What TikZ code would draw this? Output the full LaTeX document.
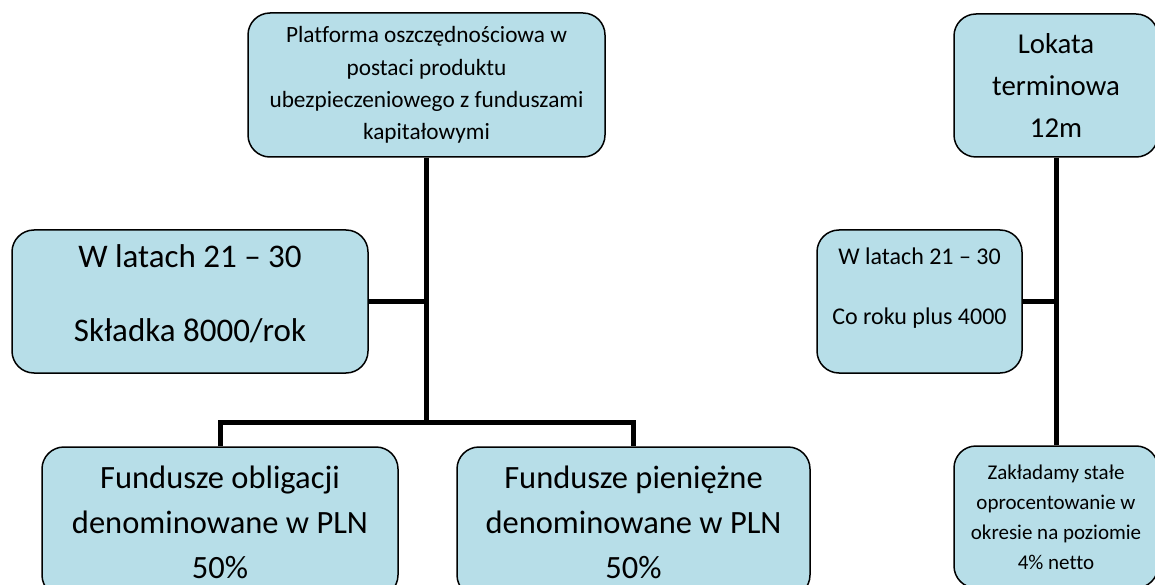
\documentclass[tikz,border=0pt]{standalone}
\usepackage{fontspec}
\setmainfont{Carlito}[Ligatures={NoCommon}]
\usetikzlibrary{positioning}
\definecolor{boxfill}{HTML}{B7DEE8}

\begin{document}
\begin{tikzpicture}[x=1pt, y=-1pt,
    box/.style={rectangle, rounded corners=22pt, draw=black, line width=1.5pt, fill=boxfill, align=center, inner sep=0pt},
    link/.style={line width=5pt}]
    \clip (0,0) rectangle (1155,585);
    % Define nodes
    \node (plat) at (426.5,85) [box, minimum width=357pt, minimum height=144pt, font=\fontsize{23.3}{32.3}\selectfont] {Platforma oszczędnościowa w\\postaci produktu\\ubezpieczeniowego z funduszami\\kapitałowymi};
    \node (lata) at (190,301.5) [box, minimum width=356pt, minimum height=143pt, text depth=16pt, font=\fontsize{33}{74}\selectfont] {W latach 21 – 30\\Składka 8000/rok};
    \node (obl) at (220,522) [box, minimum width=356pt, minimum height=150pt, font=\fontsize{32.5}{45}\selectfont] {Fundusze obligacji\\denominowane w PLN\\50\%};
    \node (pien) at (633.5,522) [box, minimum width=353pt, minimum height=150pt, font=\fontsize{32.5}{45}\selectfont] {Fundusze pieniężne\\denominowane w PLN\\50\%};
    \node (lok) at (1056,85.5) [box, minimum width=204pt, minimum height=143pt, font=\fontsize{28.8}{41.7}\selectfont] {Lokata\\terminowa\\12m};
    \node (corok) at (919.5,301.5) [box, minimum width=205pt, minimum height=143pt, font=\fontsize{24}{30}\selectfont] {W latach 21 – 30\\\mbox{}\\Co roku plus 4000\\\mbox{}};
    \node (zak) at (1056,517) [box, minimum width=204pt, minimum height=142pt, font=\fontsize{21}{30}\selectfont] {Zakładamy stałe\\oprocentowanie w\\okresie na poziomie\\4\% netto};
    \coordinate (split) at (plat.south |- 0,422);

    % Connect nodes
    \draw[link] (plat) -- (split);
    \draw[link] (lata) -- (lata.east -| plat.south);
    \draw[link] (obl) |- (split) -| (pien);
    \draw[link] (lok) -- (zak);
    \draw[link] (corok) -- (corok.east -| lok.south);
\end{tikzpicture}
\end{document}
